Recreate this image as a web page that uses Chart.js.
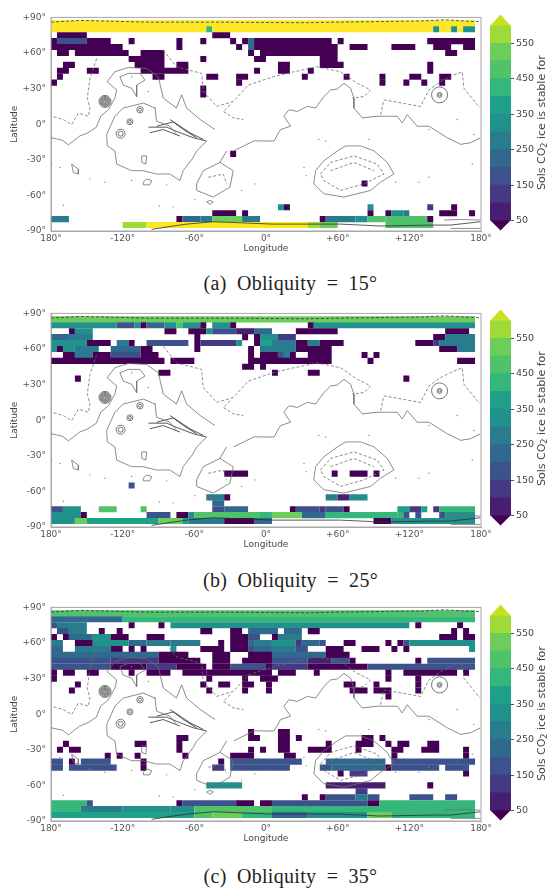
<!DOCTYPE html>
<html lang="en">
  <head>
    <title>CO2 ice stability by obliquity</title>
    <meta charset="utf-8">
    <script src="https://cdn.jsdelivr.net/npm/chart.js@4/dist/chart.umd.min.js"></script>
    <style>
      body { margin: 0; background: #fff; width: 548px; height: 890px; position: relative; overflow: hidden; }
      canvas { position: absolute; filter: blur(0.6px); }
      .caption { position: absolute; left: 0; width: 581px; text-align: center; font: 20px "Liberation Serif", serif; color: #222; word-spacing: 5px; letter-spacing: 0.3px; }
      .cbtitle { position: absolute; left: 535px; width: 13px; height: 195px; writing-mode: vertical-rl; transform: rotate(180deg); text-align: center; font: 11px "DejaVu Sans", sans-serif; color: #444; white-space: nowrap; }
      .cbtitle sub { font-size: 8px; }
    </style>
  </head>
  <body>
    <canvas id="map_a" width="500" height="247" style="left:0;top:7px"></canvas>
    <canvas id="bar_a" width="63" height="230" style="left:485px;top:10px"></canvas>
    <div class="cbtitle" style="top:25px">Sols CO<sub>2</sub> ice is stable for</div>
    <div class="caption" style="top:272px">(a) Obliquity = 15°</div>

    <canvas id="map_b" width="500" height="247" style="left:0;top:303px"></canvas>
    <canvas id="bar_b" width="63" height="230" style="left:485px;top:305px"></canvas>
    <div class="cbtitle" style="top:321px">Sols CO<sub>2</sub> ice is stable for</div>
    <div class="caption" style="top:569px">(b) Obliquity = 25°</div>

    <canvas id="map_c" width="500" height="247" style="left:0;top:597px"></canvas>
    <canvas id="bar_c" width="63" height="230" style="left:485px;top:600px"></canvas>
    <div class="cbtitle" style="top:616px">Sols CO<sub>2</sub> ice is stable for</div>
    <div class="caption" style="top:865px">(c) Obliquity = 35°</div>

    <script>
      // Axis labels
      const lonTicks = {"-180":"180°","-120":"-120°","-60":"-60°","0":"0°","60":"+60°","120":"+120°","180":"180°"};
      const latTicks = {"90":"+90°","60":"+60°","30":"+30°","0":"0°","-30":"-30°","-60":"-60°","-90":"-90°"};
      const barTicks = [50,150,250,350,450,550];
      const barEdges = [50,100,150,200,250,300,350,400,450,500,550,600];
      const bandColors = ["#481f70","#443983","#3b528b","#31688e","#287c8e","#21918c","#1fa088","#35b779","#4fc26a","#6ccd5a","#a0da39"];
      const underColor = "#440154";
      const overColor = "#fde725";
      const tipColor = "#c8e020";

      // Runs of cells: [lat, lon from, lon to, sols]
      const D = 40;  // darkest purple, below the colour bar
      const obliquity15 = [
        [85,-180,175,700],[80,-180,-50,700],[80,-50,-45,420],[80,-45,140,700],[80,140,145,300],[80,145,155,700],[80,155,160,320],[80,160,165,700],[80,165,175,300],
        [75,-175,-150,D],[75,-45,-30,D],
        [70,-180,-175,D],[70,-175,-150,170],[70,-150,-130,D],[70,-115,-110,D],[70,-75,-70,D],[70,-55,-50,D],[70,-30,-25,D],[70,-20,-15,D],[70,-15,-10,240],[70,-10,55,D],[70,60,65,D],[70,135,175,D],
        [65,-180,-120,D],[65,-75,-70,D],[65,-25,-20,D],[65,-15,-10,200],[65,-10,60,D],[65,70,85,D],[65,105,125,D],[65,140,155,D],[65,165,175,D],
        [60,-175,-165,D],[60,-160,-115,D],[60,-105,-85,D],[60,-15,-10,D],[60,-5,60,D],[60,150,160,D],
        [55,-115,-85,D],[55,-55,-50,D],[55,-10,0,D],[55,45,60,D],
        [50,-170,-160,D],[50,-110,-85,D],[50,-75,-65,D],[50,10,20,D],[50,45,65,D],[50,135,140,D],
        [45,-175,-165,D],[45,-150,-140,D],[45,-105,-65,D],[45,-10,-5,D],[45,10,20,D],[45,35,40,D],[45,135,140,D],
        [40,-175,-170,D],[40,-95,-85,D],[40,-50,-40,D],[40,-25,-15,D],[40,30,35,D],[40,65,70,D],[40,95,100,D],[40,120,130,D],[40,145,155,D],
        [35,-180,-175,D],[35,-25,-20,D],[35,95,100,D],[35,115,120,D],[35,130,135,D],[35,145,150,D],
        [30,-55,-50,D],[25,-55,-50,D],
        [-25,-30,-25,D],[-50,80,85,D],
        [-70,10,15,300],[-70,15,20,D],[-70,85,90,300],[-70,135,140,120],[-70,155,160,D],
        [-75,-45,-25,D],[-75,-20,-15,D],[-75,85,90,D],[-75,100,105,D],[-75,105,115,320],[-75,115,120,250],[-75,145,160,D],[-75,170,175,D],
        [-80,-180,-165,275],[-80,-75,-70,D],[-80,-70,-55,200],[-80,-55,-45,280],[-80,-45,-20,520],[-80,-20,-5,260],[-80,45,50,D],[-80,50,75,250],[-80,75,85,320],[-80,85,100,470],[-80,100,135,480],[-80,135,140,D],
        [-85,-120,-100,560],[-85,-100,35,700],[-85,35,45,580],[-85,45,60,540],[-85,100,140,480]
      ];
      const obliquity25 = [
        [85,-180,175,520],
        [80,-180,-125,330],[80,-125,-110,170],[80,-110,-105,330],[80,-105,-100,D],[80,-100,-85,240],[80,-85,-75,300],[80,-75,-70,450],[80,-70,-55,300],[80,-55,-50,D],[80,-45,-30,300],[80,-30,-25,D],[80,35,40,D],[80,40,175,330],
        [75,-165,-160,D],[75,-160,-145,300],[75,-85,-75,D],[75,-65,-50,D],[75,-50,-45,300],[75,-45,-25,170],[75,-25,-10,80],[75,-10,5,200],[75,25,60,D],[75,150,170,D],
        [70,-180,-165,200],[70,-165,-145,280],[70,-60,-55,D],[70,-20,-15,D],[70,-10,-5,D],[70,-5,10,300],[70,10,25,100],[70,140,150,D],[70,150,175,260],
        [65,-180,-160,300],[65,-160,-150,300],[65,-150,-130,D],[65,-125,-115,250],[65,-115,-110,D],[65,-100,-65,180],[65,-60,-55,D],[65,-55,-25,100],[65,-25,-20,300],[65,-10,-5,D],[65,-5,5,350],[65,5,25,280],[65,25,35,D],[65,35,45,260],[65,45,65,D],[65,125,140,D],[65,140,145,120],[65,145,175,250],
        [60,-180,-175,300],[60,-175,-170,D],[60,-170,-160,300],[60,-160,-140,250],[60,-130,-105,240],[60,-105,-95,D],[60,-60,-55,D],[60,-15,-10,D],[60,-5,25,280],[60,25,55,D],[60,145,160,D],[60,160,175,250],
        [55,-170,-160,D],[55,-160,-145,250],[55,-145,-130,D],[55,-130,-105,180],[55,-105,-90,D],[55,-15,-10,D],[55,-5,10,D],[55,10,15,180],[55,15,20,260],[55,20,25,D],[55,35,55,D],[55,80,85,D],[55,90,95,D],
        [50,-180,-85,D],[50,-80,-60,D],[50,-15,55,D],[50,85,90,D],[50,160,175,D],
        [45,-20,-10,D],[45,-5,0,D],
        [40,-90,-80,D],[40,5,10,D],[40,35,45,D],
        [35,-160,-155,D],[35,115,120,D],
        [-45,-35,-15,D],[-45,55,60,D],[-45,70,85,D],[-45,90,95,D],
        [-55,-115,-110,170],
        [-65,-50,-35,280],[-65,-35,-30,D],[-65,50,60,280],[-65,60,70,90],[-65,70,85,300],
        [-70,-45,-35,200],
        [-75,-180,-170,170],[-75,-170,-155,340],[-75,-140,-125,450],[-75,-105,-100,450],[-75,-45,-35,150],[-75,-35,-15,200],[-75,20,25,D],[-75,25,45,180],[-75,45,50,120],[-75,50,65,180],[-75,65,70,D],[-75,110,120,370],[-75,120,130,120],[-75,130,135,370],[-75,140,145,120],[-75,145,175,430],
        [-80,-180,-155,330],[-80,-155,-150,D],[-80,-100,-80,170],[-80,-75,-65,D],[-80,-65,-60,300],[-80,-60,-5,470],[-80,-5,5,430],[-80,5,30,520],[-80,30,50,230],[-80,50,110,430],[-80,110,115,430],[-80,115,120,170],[-80,125,130,170],[-80,145,150,170],[-80,150,175,330],
        [-85,-180,-160,300],[-85,-160,-150,500],[-85,-150,-90,350],[-85,-90,-70,520],[-85,-70,-65,350],[-85,-65,-35,250],[-85,-35,-10,D],[-85,-10,5,200],[-85,90,105,D],[-85,105,155,320],[-85,155,175,300]
      ];
      const obliquity35 = [
        [85,-180,175,470],
        [80,-180,-120,200],[80,-120,175,440],
        [75,-180,-175,170],[75,-175,-150,270],[75,-115,-110,D],[75,-90,-85,D],[75,-80,120,300],[75,125,130,D],[75,160,165,D],
        [70,-175,-165,150],[70,-165,-150,260],[70,-140,-135,D],[70,-125,-120,D],[70,-55,-45,D],[70,-30,-20,D],[70,-15,10,230],[70,15,30,200],[70,35,45,D],[70,155,160,D],[70,165,170,D],
        [65,-180,-175,D],[65,-170,-165,D],[65,-165,-145,240],[65,-145,-130,320],[65,-130,-115,D],[65,-100,-85,D],[65,-30,-15,D],[65,-15,-5,170],[65,5,10,D],[65,10,30,270],[65,145,160,D],[65,165,175,D],
        [60,-180,-170,280],[60,-160,-145,D],[60,-145,-115,300],[60,-115,-100,240],[60,-100,-80,270],[60,-80,-55,280],[60,-40,-35,D],[60,-30,-15,D],[60,-15,-10,200],[60,-10,5,280],[60,5,25,300],[60,25,30,140],[60,30,45,200],[60,45,50,150],[60,65,75,D],[60,100,105,D],[60,110,115,D],[60,115,120,170],[60,120,175,300],
        [55,-180,-170,220],[55,-160,-130,270],[55,-130,-120,D],[55,-115,-110,D],[55,-105,-100,D],[55,-80,-75,300],[55,-55,-35,D],[55,-30,-15,D],[55,-15,-10,170],[55,-10,5,200],[55,5,25,270],[55,25,35,180],[55,50,65,D],[55,80,95,D],[55,105,110,D],[55,115,120,D],[55,170,175,300],
        [50,-180,-90,220],[50,-90,-65,D],[50,-45,-30,D],[50,-15,5,D],[50,5,50,200],[50,50,70,D],
        [45,-180,-130,190],[45,-130,-90,140],[45,-90,-55,D],[45,-45,-30,D],[45,-20,5,D],[45,5,35,180],[45,35,55,90],[45,55,70,180],[45,70,75,D],[45,125,130,D],[45,135,175,180],
        [40,-180,-130,170],[40,-130,-100,D],[40,-100,-75,130],[40,-75,-50,D],[40,-45,-30,D],[40,-30,0,170],[40,0,5,D],[40,5,35,120],[40,35,85,D],[40,85,175,170],
        [35,-180,-175,D],[35,-170,-160,D],[35,-150,-140,D],[35,-115,-110,D],[35,-100,-80,D],[35,-70,-50,D],[35,-50,5,D],[35,10,25,D],[35,40,45,D],[35,100,105,D],[35,115,160,D],[35,165,170,D],
        [30,-180,-175,D],[30,-50,-45,D],[30,-20,-15,D],[30,-5,5,D],[30,5,10,D],[30,100,105,D],[30,125,130,D],
        [25,-160,-155,D],[25,-55,-50,D],[25,-40,-30,D],[25,-20,-10,D],[25,0,5,D],[25,65,75,D],[25,90,95,D],[25,125,130,D],
        [20,-165,-160,D],[20,-50,-45,D],[20,-20,-15,D],[20,0,5,D],[20,70,85,D],[20,90,105,D],[20,125,130,D],
        [15,100,105,D],
        [-15,-15,-10,D],[-15,10,20,D],
        [-20,-75,-65,D],[-20,-15,-5,D],[-20,10,20,D],[-20,25,30,D],[-20,80,90,D],[-20,95,100,D],
        [-25,-170,-165,D],[-25,-110,-100,D],[-25,-75,-70,D],[-25,10,20,D],[-25,50,55,D],[-25,75,90,D],[-25,100,105,D],[-25,110,120,D],[-25,135,145,D],
        [-30,-175,-170,D],[-30,-165,-155,D],[-30,-75,-70,D],[-30,-15,-10,D],[-30,-5,0,D],[-30,10,20,D],[-30,35,55,D],[-30,75,80,D],[-30,105,115,D],[-30,130,145,D],[-30,165,170,D],
        [-35,-135,-130,D],[-35,-125,-120,D],[-35,-110,-105,D],[-35,-70,-65,D],[-35,-30,-10,D],[-35,15,25,D],[-35,105,110,D],[-35,165,170,D],
        [-40,-180,-170,170],[-40,-165,-160,D],[-40,-155,-130,150],[-40,-105,-100,D],[-40,-40,-35,D],[-40,-30,5,170],[-40,5,30,170],[-40,50,100,220],[-40,105,160,170],[-40,160,175,150],
        [-45,-180,-170,170],[-45,-165,-125,180],[-45,-105,-100,D],[-45,-45,-35,100],[-45,-30,5,190],[-45,5,20,180],[-45,45,55,150],[-45,55,100,230],[-45,100,105,D],[-45,105,145,180],[-45,150,170,160],
        [-50,60,65,D],[-50,70,85,140],[-50,165,170,D],
        [-60,-50,-20,300],[-60,50,100,90],[-60,135,140,D],
        [-65,75,85,100],
        [-70,30,35,D],[-70,45,50,D],[-70,50,75,170],[-70,75,85,270],[-70,85,95,170],[-70,120,140,150],[-70,150,160,150],
        [-75,-180,-150,400],[-75,-150,-145,170],[-75,-75,-70,D],[-75,-70,-25,150],[-75,-25,-10,D],[-75,-5,5,D],[-75,5,85,150],[-75,85,95,D],[-75,95,175,430],
        [-80,-180,-155,400],[-80,-155,-120,250],[-80,-120,-80,340],[-80,-80,-60,300],[-80,-60,5,480],[-80,5,175,440],
        [-85,-180,-60,360],[-85,-60,-45,450],[-85,-45,-20,540],[-85,-20,5,400],[-85,5,35,230],[-85,35,85,330],[-85,85,105,540],[-85,105,175,440]
      ];

      // Topography: [lon, lat], same on all three maps
      const solidContours = [
        [[-180,-11.4],[-170,-13.6],[-165.5,-17.5],[-156,-10],[-149,-7.2],[-142,-2.5],[-138.4,6.7],[-132,12.2],[-126.5,22],[-125,28.9],[-133,35.8],[-126.5,44.2],[-115.3,47.8],[-100,47],[-90.2,40],[-86,22],[-75,13.6],[-70.6,24.7],[-66.5,13.6],[-55,3.9],[-42.7,-4.5]],
        [[-74.8,-8.6],[-80.4,-1.7],[-91.6,2.5],[-93,13.6],[-102.7,17.8],[-119.5,13.6],[-126.5,6.7],[-133.4,-8.6],[-132.9,-18.3],[-126.5,-22.5],[-125,-33.6],[-112.5,-39.2],[-102.7,-39.2],[-91.6,-42],[-80.4,-42],[-72,-47.5],[-69.3,-39.2],[-60.9,-28],[-58,-22.5],[-49.7,-14.2]],
        [[-122.3,40],[-115.3,42.8],[-105.5,42.8],[-101.3,37.2],[-108.3,33],[-108.3,23.3],[-112.5,30.3],[-119.5,33],[-122.3,40]],
        [[-27,-22.5],[-10,-14],[6.6,-14.2],[12.2,-4.5],[20.6,-1.7],[15,6.7],[19.2,12.2],[26.2,10.8],[34.6,15],[41.5,13.6],[48.5,23.3],[54.1,28.9],[59.7,29.7],[65.2,34.4],[70.8,30.3],[73.6,21.9],[73.6,13.6],[80.6,5.3],[93.1,6.7],[109.9,6.7],[114,1.1],[118.3,8],[126.6,-1.7],[136.4,-1.7],[151.7,-11.4],[162.9,-17],[171.3,-15.6],[179.6,-11.4]],
        [[40,-50.3],[41.5,-39.2],[48.5,-30.8],[59.7,-22.5],[66.6,-18.3],[79.2,-18.3],[90.4,-22.5],[101.5,-32.2],[107.1,-42],[95.9,-48.9],[87.6,-55.8],[65.2,-61.4],[48.5,-58.6],[40,-50.3]],
        [[-58.1,-50.3],[-52.5,-39.2],[-38.6,-32.2],[-27.4,-39.2],[-30.2,-53],[-44.1,-61.4],[-58.1,-55.8],[-58.1,-50.3]],
        [[-33,-22.5],[-38.6,-32.2]],
        [[-102.7,-48.9],[-100,-46.1],[-95.7,-47.5],[-97.2,-51.1],[-102.2,-51.1],[-102.7,-48.9]],
        [[-49.7,-65.6],[-46.9,-64.2],[-44.1,-65.6],[-46.9,-67.5],[-49.7,-65.6]],
        [[-162.7,-33.6],[-157.1,-37.8],[-157.1,-42],[-161.3,-40.6],[-162.7,-33.6]],
        [[-104,-26.7],[-100,-26.7],[-100.5,-33.6],[-104,-32.2],[-104,-26.7]],
        [[149,-80.8],[162.9,-80.3],[179.6,-80.8]],
        [[154.5,-87.8],[179.6,-87.8]]
      ];
      const dashedContours = [
        [[-141.8,55.3],[-147.4,38.6],[-149.6,22],[-147.4,13.6],[-148.8,6.7],[-157.1,9.4],[-162.7,-0.3],[-169.7,3.9],[-179.5,6.7]],
        [[-86,62.2],[-74.8,48.3],[-53.9,42.8],[-52.5,27.5],[-41.3,15],[-27.4,19.2],[-14.8,33],[6,40],[23.4,44.2],[42.9,48.3],[62.5,44.2],[76.4,34.4],[87.6,28.9],[82,23.3],[72.2,22]],
        [[95.9,8],[98.7,20.5],[129.4,15],[136.4,28.9],[146,35.8],[157.3,41.4],[164.3,44.2],[165.7,30.3],[176.8,16.4],[179.6,13.6]],
        [[-30,16.4],[-35.8,10.8],[-27.4,5.3],[-19,3.9]],
        [[45.7,-42],[54,-32.2],[73.6,-26.7],[93.1,-33.6],[98.7,-42],[82,-50.3],[62.5,-55.8],[48.5,-47.5],[45.7,-42]],
        [[54,-39.2],[73.6,-32.2],[90.4,-39.2]],
        [[-48.3,-44.7],[-35.8,-42],[-33,-50.3]]
      ];
      const darkContours = [
        [[-98.5,-2.5],[-83.2,-2.5],[-72,-7.2],[-60.9,-11.4],[-49.7,-14.2]],
        [[-91.6,-1.7],[-77.6,1.9],[-69.3,-4.5],[-58.1,-11.4]],
        [[-80.4,3.9],[-70.6,-2.5],[-63.7,-7.2],[-52.5,-12.8]],
        [[-97.2,-7.2],[-86,-4.5],[-72,-10]],
        [[-95.8,-88.6],[-77.6,-85.8],[-66.5,-84.2],[-44.1,-82.2],[6,-84.2],[34.6,-84.2],[62.5,-84.2],[95.9,-85.8],[137.8,-85],[154.5,-85],[179.6,-82.2]]
      ];
      const northDashes = [[-180,86],[-155,87.5],[-100,86],[-40,86],[35,85.5],[60,86],[130,87],[150,88],[165,87],[179,86.5]];
      const volcanoRings = [
        [-134.8,19.2,6],[-134.8,19.2,5],[-134.8,19.2,4],[-134.8,19.2,3],[-134.8,19.2,2],[-134.8,19.2,1],
        [-105.5,12.2,3.2],[-105.5,12.2,1.5],
        [-113.9,2,3],[-113.9,2,1.5],
        [-121.7,-8,4.5],[-121.7,-8,2.5],
        [145.3,24.7,8],[145.3,24.7,2.5],[145.3,24.7,1.2]
      ];
      const specks = [
        [-172.5,-36.4],[-179.5,-33.6],[-147.4,-46.1],[-134.8,-48.9],[-112.5,-47.5],[-83.2,-51.1],[-169.7,-68.3],[-89.3,-68.9],[-77.6,-69.7],[-59.5,-63.6],[-20.4,-55.8],[-9.3,-50.3],
        [44.3,-12.8],[49.9,-14.2],[86.2,-12.8],[174,-8.6],[160,3.9],[136.4,-4.5],[-112.5,40],[-98.5,27.5],[-92.8,13.6],
        [31.8,-36.4],[33.7,-43.3],[136.4,-44.7],[172.7,-33.6],[128,-48.9],[108.5,-48.9]
      ];

      function solsColor(v)
      {
        if( v < barEdges[0] ) return underColor;
        if( v >= barEdges[barEdges.length-1] ) return overColor;
        return bandColors[Math.floor((v - barEdges[0]) / 50)];
      }

      function lineDataset(points, color, width, dash)
      {
        return {
          type: "scatter",
          order: 0,
          showLine: true,
          borderColor: color,
          borderWidth: width,
          borderDash: dash,
          pointRadius: 0,
          data: points.map(p => ({x: p[0], y: p[1]}))
        };
      }

      // top and right spines, the scales only draw left and bottom
      const framePlugin = {
        id: "frame",
        afterDatasetsDraw(chart) {
          const a = chart.chartArea, c = chart.ctx;
          c.save();
          c.strokeStyle = "#a8a8a8";
          c.lineWidth = 1;
          c.strokeRect(a.left, a.top, a.right - a.left, a.bottom - a.top);
          c.restore();
        }
      };

      function makeMap(id, runs)
      {
        const datasets = [{
          type: "bar",
          indexAxis: "y",
          order: 1,
          grouped: false,
          barPercentage: 1.03,
          categoryPercentage: 1,
          borderWidth: 0,
          backgroundColor: runs.map(r => solsColor(r[3])),
          data: runs.map(r => ({x: [r[1], r[2]], y: r[0]}))
        }];
        solidContours.forEach(p => datasets.push(lineDataset(p, "#6e6e6e", 0.8)));
        dashedContours.forEach(p => datasets.push(lineDataset(p, "#6e6e6e", 0.8, [3, 2])));
        darkContours.forEach(p => datasets.push(lineDataset(p, "#2e2e2e", 0.8)));
        datasets.push(lineDataset(northDashes, "#333", 0.8, [3, 2]));
        datasets.push({
          type: "scatter",
          order: 0,
          pointStyle: "circle",
          pointRadius: volcanoRings.map(v => v[2]),
          pointBorderColor: "#555",
          pointBorderWidth: 0.8,
          pointBackgroundColor: "rgba(0,0,0,0)",
          data: volcanoRings.map(v => ({x: v[0], y: v[1]}))
        });
        datasets.push({
          type: "scatter",
          order: 0,
          pointRadius: 0.7,
          pointBorderWidth: 0,
          pointBackgroundColor: "#888",
          data: specks.map(v => ({x: v[0], y: v[1]}))
        });

        return new Chart(id, {
          type: "bar",
          data: {datasets: datasets},
          plugins: [framePlugin],
          options: {
            responsive: false,
            animation: false,
            events: [],
            layout: {padding: {top: 8, right: 19, left: 0, bottom: 0}},
            plugins: {legend: {display: false}, tooltip: {enabled: false}},
            scales: {
              x: {
                type: "linear", min: -180, max: 180, offset: false,
                afterFit: s => { s.height = 23; },
                grid: {display: false, drawTicks: false},
                border: {color: "#a8a8a8"},
                ticks: {stepSize: 60, maxRotation: 0, autoSkip: false, padding: 2, color: "#555",
                        font: {family: "DejaVu Sans", size: 9}, callback: v => lonTicks[v]},
                title: {display: true, text: "Longitude", color: "#444", padding: {top: -1, bottom: 0},
                        font: {family: "DejaVu Sans", size: 9}}
              },
              y: {
                type: "linear", min: -90, max: 90, offset: false,
                afterFit: s => { s.width = 51; },
                grid: {display: false, drawTicks: false},
                border: {color: "#a8a8a8"},
                ticks: {stepSize: 30, autoSkip: false, padding: 5, color: "#555",
                        font: {family: "DejaVu Sans", size: 9}, callback: v => latTicks[v]},
                title: {display: true, text: "Latitude", color: "#444", padding: {top: 9, bottom: 0},
                        font: {family: "DejaVu Sans", size: 9}}
              }
            }
          }
        });
      }

      // pointed ends of the colour bar, hung off the y scale
      const tipsPlugin = {
        id: "tips",
        beforeDatasetsDraw(chart) {
          const y = chart.scales.y, x = chart.scales.x, c = chart.ctx;
          const l = x.left, r = x.right, m = (l + r) / 2;
          const hi = y.getPixelForValue(barEdges[barEdges.length-1]);
          const lo = y.getPixelForValue(barEdges[0]);
          c.save();
          c.fillStyle = tipColor;
          c.beginPath(); c.moveTo(l, hi + 0.5); c.lineTo(m, hi - 11); c.lineTo(r, hi + 0.5); c.fill();
          c.fillStyle = underColor;
          c.beginPath(); c.moveTo(l, lo - 0.5); c.lineTo(m, lo + 10); c.lineTo(r, lo - 0.5); c.fill();
          c.restore();
        }
      };

      function makeBar(id)
      {
        return new Chart(id, {
          type: "bar",
          data: {
            labels: ["sols"],
            datasets: bandColors.map((col, i) => ({
              grouped: false,
              barPercentage: 1,
              categoryPercentage: 1,
              backgroundColor: col,
              data: [[barEdges[i], barEdges[i+1]]]
            }))
          },
          plugins: [tipsPlugin],
          options: {
            responsive: false,
            animation: false,
            events: [],
            layout: {padding: {top: 15.5, left: 5, right: 0, bottom: 19.5}},
            plugins: {legend: {display: false}, tooltip: {enabled: false}},
            scales: {
              x: {display: false},
              y: {
                type: "linear", position: "right", min: 50, max: 600,
                afterBuildTicks: s => { s.ticks = barTicks.map(v => ({value: v})); },
                afterFit: s => { s.width = 37; },
                grid: {drawOnChartArea: false, tickLength: 3, tickColor: "#555"},
                border: {display: false},
                ticks: {padding: 2, color: "#444", font: {family: "DejaVu Sans", size: 9.5}}
              }
            }
          }
        });
      }

      makeMap("map_a", obliquity15);
      makeMap("map_b", obliquity25);
      makeMap("map_c", obliquity35);
      makeBar("bar_a");
      makeBar("bar_b");
      makeBar("bar_c");
    </script>
  </body>
</html>
